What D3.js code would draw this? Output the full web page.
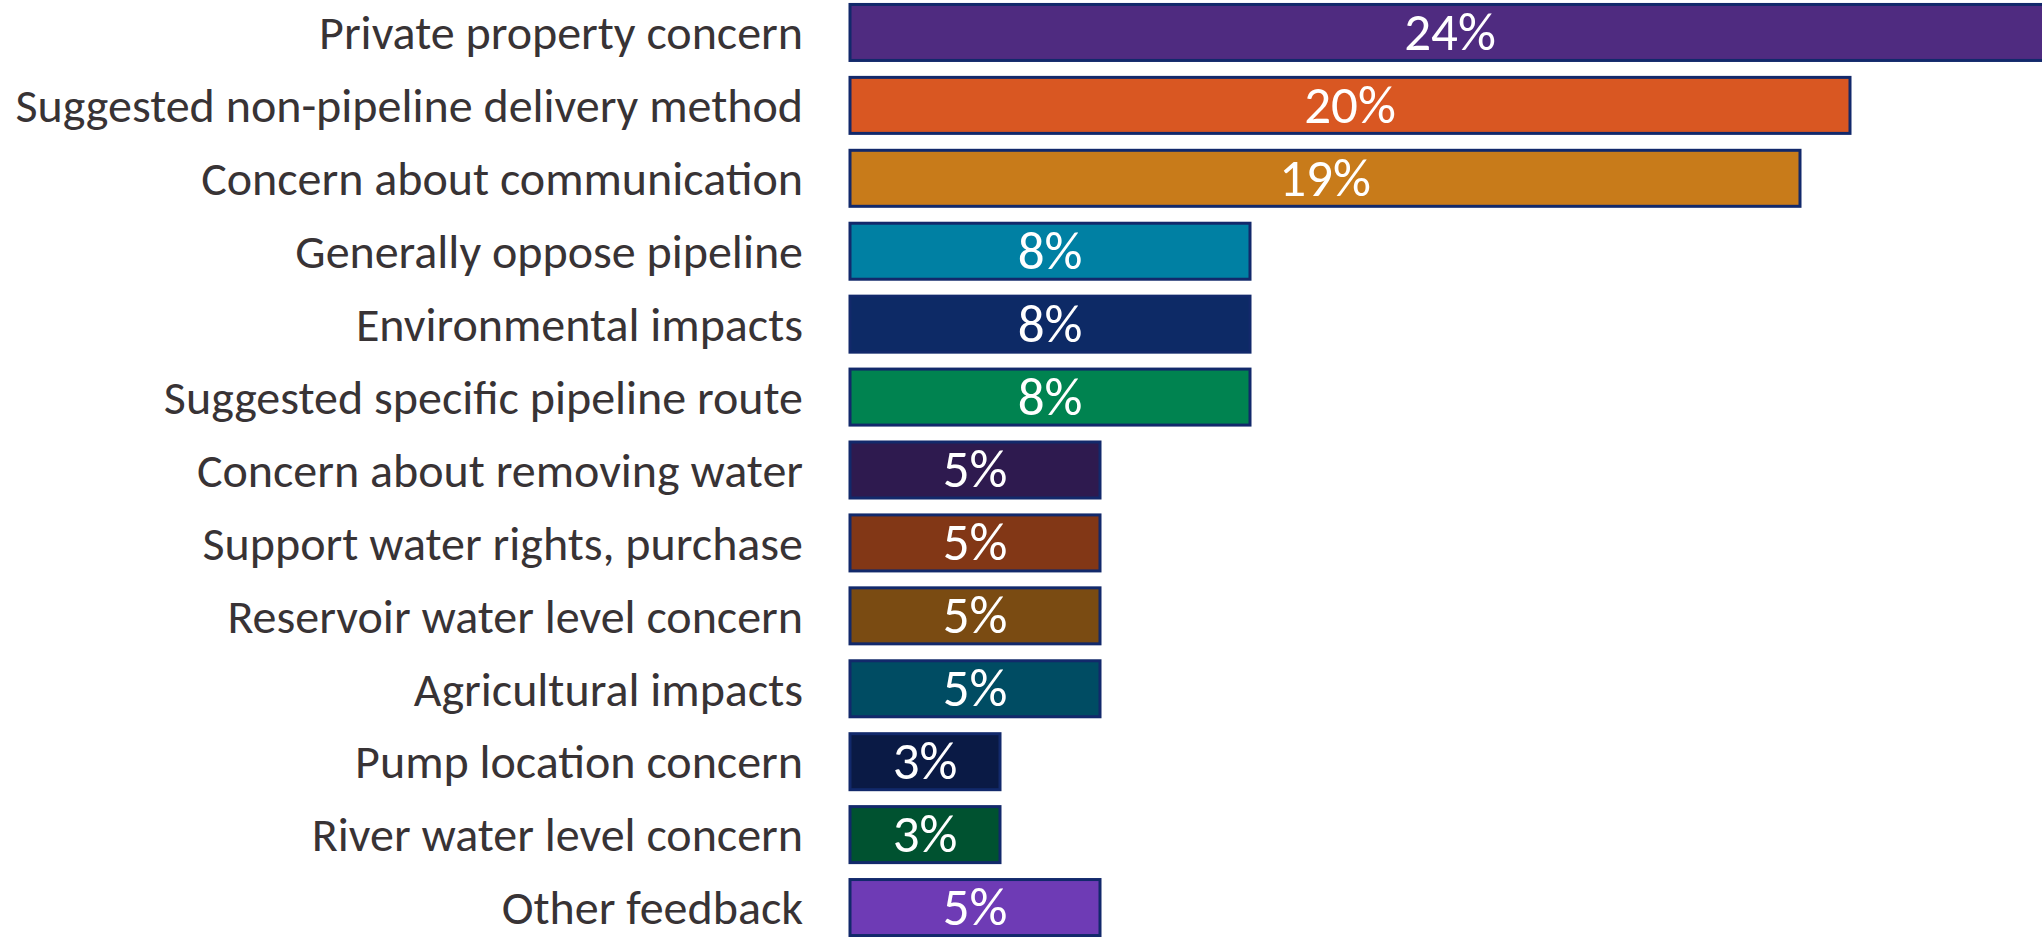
<!DOCTYPE html>
<html>
<head>
<meta charset="utf-8">
<script src="https://cdn.jsdelivr.net/npm/d3@7"></script>
<style>
  html, body { margin: 0; padding: 0; background: #fff; overflow: hidden; }
  text { font-family: Calibri, Carlito, Lato, sans-serif; }
</style>
</head>
<body>
<div id="chart"></div>
<script>
const categories = [
    'Private property concern',
    'Suggested non-pipeline delivery method',
    'Concern about communication',
    'Generally oppose pipeline',
    'Environmental impacts',
    'Suggested specific pipeline route',
    'Concern about removing water',
    'Support water rights, purchase',
    'Reservoir water level concern',
    'Agricultural impacts',
    'Pump location concern',
    'River water level concern',
    'Other feedback'
];
const percents = [24, 20, 19, 8, 8, 8, 5, 5, 5, 5, 3, 3, 5];
const barColors = [
    '#4f2b80', '#d95722', '#c87b1a', '#0080a3', '#0d2a66', '#008350', '#2e1a4f',
    '#823716', '#7a4b12', '#004c63', '#0a1a45', '#005230', '#6e3bb5'
];

const width = 2042, height = 937;
const left = 850;

const svg = d3.select('#chart')
    .append('svg')
    .attr('width', width)
    .attr('height', height);

const xScale = d3.scaleLinear()
    .domain([0, 20])
    .range([left, left + 1000]);

const yScale = d3.scaleBand()
    .domain(categories)
    .range([-4, 944])
    .paddingInner(0.232)
    .paddingOuter(0.116);

const rows = svg.selectAll('.row')
    .data(categories)
    .enter()
    .append('g')
    .attr('class', 'row');

rows.append('rect')
    .attr('x', xScale(0))
    .attr('y', d => yScale(d))
    .attr('width', (d, i) => xScale(percents[i]) - xScale(0))
    .attr('height', yScale.bandwidth())
    .attr('fill', (d, i) => barColors[i])
    .attr('stroke', '#12296b')
    .attr('stroke-width', 3);

// category labels, right aligned next to the bars
rows.append('text')
    .attr('x', left - 47)
    .attr('y', d => yScale(d) + yScale.bandwidth() / 2)
    .attr('dy', '0.35em')
    .attr('text-anchor', 'end')
    .style('font-size', '48px')
    .style('fill', '#383335')
    .text(d => d);

// value labels centred in each bar
rows.append('text')
    .attr('x', (d, i) => (xScale(0) + xScale(percents[i])) / 2)
    .attr('y', d => yScale(d) + yScale.bandwidth() / 2)
    .attr('dy', '0.33em')
    .attr('text-anchor', 'middle')
    .style('font-size', '53px')
    .style('fill', '#ffffff')
    .text((d, i) => percents[i] + '%');
</script>
</body>
</html>
